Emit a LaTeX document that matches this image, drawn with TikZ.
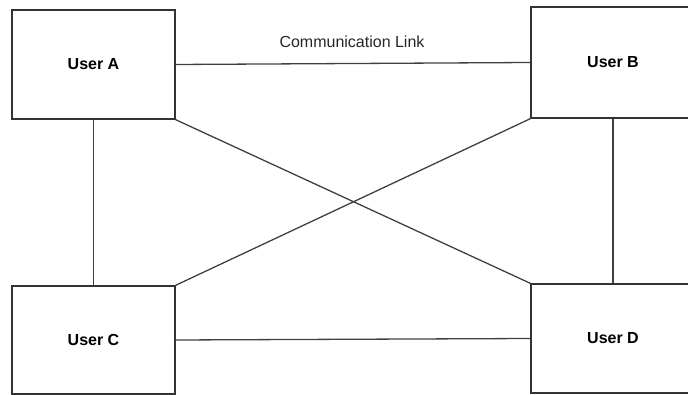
\documentclass[tikz,border=0pt]{standalone}
\usepackage{fontspec}
\setmainfont{Liberation Sans}
\begin{document}
\begin{tikzpicture}[x=1pt,y=-1pt,
  userbox/.style={draw=black!80, line width=1.4pt, rectangle, inner sep=0pt,
    font=\fontsize{16}{19}\selectfont\bfseries},
  link/.style={draw=black!75, line width=1.3pt},
  linklabel/.style={font=\fontsize{16}{19}\selectfont, text=black!85}]
\useasboundingbox (0,0) rectangle (688,395);
\clip (0,0) rectangle (688,395);
% the four users
\node[userbox, minimum width=163pt, minimum height=109pt] (A) at (93.5,64.5) {User A};
\node[userbox, minimum width=164pt, minimum height=111pt] (B) at (613,62.5) {User B};
\node[userbox, minimum width=163pt, minimum height=108pt] (C) at (93.5,340) {User C};
\node[userbox, minimum width=164pt, minimum height=109pt] (D) at (613,338.5) {User D};
% label of the top link
\node[linklabel] (lbl) at (352,42) {Communication Link};
% links between every pair of users
\draw[link] (A.east) -- (B.west);
\draw[link] (C.east) -- (D.west);
\draw[link] (A.south) -- (C.north);
\draw[link] (B.south) -- (D.north);
\draw[link] (A.south east) -- (D.north west);
\draw[link] (C.north east) -- (B.south west);
\end{tikzpicture}
\end{document}
